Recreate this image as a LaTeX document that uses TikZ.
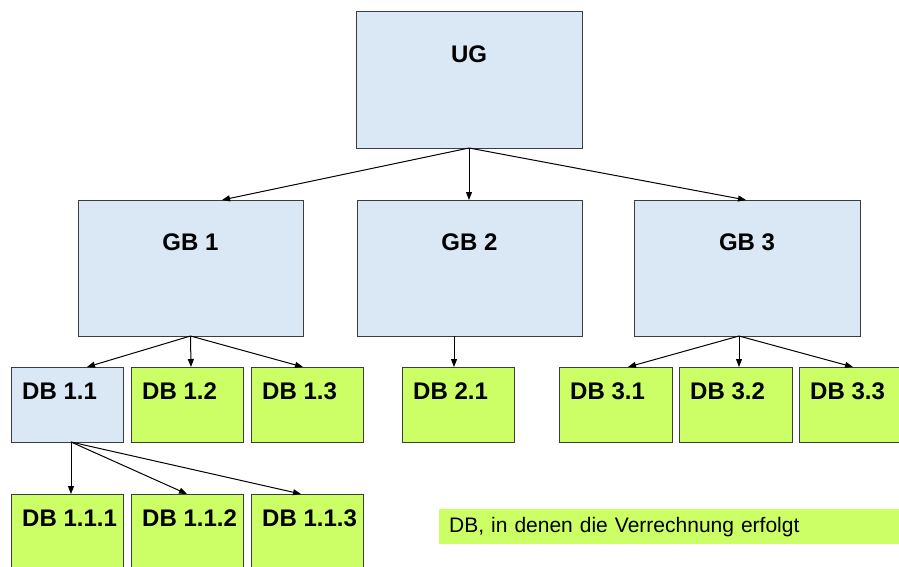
\documentclass[tikz,border=0pt]{standalone}
\usepackage{fontspec}
\setmainfont{Liberation Sans}
\usetikzlibrary{calc,arrows.meta}
\definecolor{boxblue}{RGB}{218,232,245}
\definecolor{boxgreen}{RGB}{204,255,102}
\definecolor{boxline}{RGB}{60,60,60}
\newcommand{\boxfont}{\fontsize{24}{28}\selectfont\bfseries}
\tikzset{
  basebox/.style={draw=boxline, line width=1pt, outer sep=0pt, inner sep=0pt, anchor=north west},
  bigbox/.style={basebox, fill=boxblue, minimum width=225pt, minimum height=136pt,
    label={[anchor=center, yshift=-42pt, inner sep=0pt, font=\boxfont]north:#1}},
  smallbox/.style={basebox, minimum width=112pt, minimum height=75pt,
    label={[anchor=west, xshift=11pt, yshift=-24pt, inner sep=0pt, font=\boxfont]north west:#1}},
  bluebox/.style={smallbox=#1, fill=boxblue},
  greenbox/.style={smallbox=#1, fill=boxgreen},
  link/.style={line width=1pt, -{Triangle[length=8pt,width=6pt]}},
}
\begin{document}
\begin{tikzpicture}[x=1pt, y=-1pt]
  \useasboundingbox (0,0) rectangle (899,567);
  \clip (0,0) rectangle (899,567);

  % top level
  \node[bigbox=UG, minimum width=226pt] (ug) at (356,12) {};

  % second level
  \node[bigbox={GB 1}] (gb1) at (78,200) {};
  \node[bigbox={GB 2}] (gb2) at (357,200) {};
  \node[bigbox={GB 3}, minimum width=226pt] (gb3) at (634,200) {};

  % third level
  \node[bluebox={DB 1.1}] (db11) at (11,367) {};
  \node[greenbox={DB 1.2}] (db12) at (131,367) {};
  \node[greenbox={DB 1.3}] (db13) at (251,367) {};
  \node[greenbox={DB 2.1}] (db21) at (402,367) {};
  \node[greenbox={DB 3.1}, minimum width=113pt] (db31) at (559,367) {};
  \node[greenbox={DB 3.2}, minimum width=113pt] (db32) at (679,367) {};
  \node[greenbox={DB 3.3}, minimum width=113pt] (db33) at (799,367) {};

  % fourth level
  \node[greenbox={DB 1.1.1}] (db111) at (11,494) {};
  \node[greenbox={DB 1.1.2}] (db112) at (131,494) {};
  \node[greenbox={DB 1.1.3}] (db113) at (251,494) {};

  % legend
  \node[anchor=north west, fill=boxgreen, minimum height=35pt, text width=460pt,
        inner xsep=10pt, inner ysep=0pt, align=left,
        font=\fontsize{21}{24}\selectfont] (legend) at (439,509)
        {DB, in denen die Verrechnung erfolgt};

  % connectors
  \coordinate (gb2out) at ($(gb2.south west)+(97,0)$);
  \coordinate (gb3out) at ($(gb3.south west)+(105,0)$);
  \coordinate (db11out) at ($(db11.south west)+(60,0)$);

  \draw[link] (ug.south) -- ($(gb1.north west)+(144,0)$);
  \draw[link] (ug.south) -- ($(gb2.north west)+(112,0)$);
  \draw[link] (ug.south) -- ($(gb3.north west)+(112,0)$);

  \draw[link] (gb1.south) -- ($(db11.north west)+(76,0)$);
  \draw[link] (gb1.south) -- ($(db12.north west)+(60,0)$);
  \draw[link] (gb1.south) -- ($(db13.north west)+(52,0)$);

  \draw[link] (gb2out) -- ($(db21.north west)+(52,0)$);

  \draw[link] (gb3out) -- ($(db31.north west)+(69,0)$);
  \draw[link] (gb3out) -- ($(db32.north west)+(60,0)$);
  \draw[link] (gb3out) -- ($(db33.north west)+(54,0)$);

  \draw[link] (db11out) -- ($(db111.north west)+(60,0)$);
  \draw[link] (db11out) -- ($(db112.north west)+(56,0)$);
  \draw[link] (db11out) -- ($(db113.north west)+(50,0)$);
\end{tikzpicture}
\end{document}
